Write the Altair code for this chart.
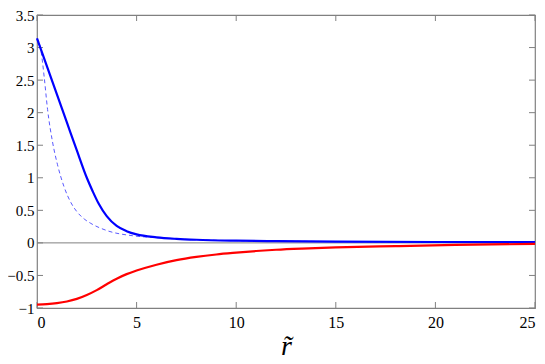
import altair as alt
import pandas as pd

# solid blue curve
r_blue = [0, 0.5, 1, 1.5, 2, 2.5, 2.8, 3.1, 3.5, 4, 4.5, 5, 6, 7, 8, 10, 12, 15, 20, 25]
v_blue = [3.14, 2.71, 2.28, 1.85, 1.42, 1.0, 0.79, 0.6, 0.41, 0.26, 0.18, 0.13, 0.085, 0.062, 0.048, 0.034, 0.027, 0.02, 0.014, 0.011]

# dashed blue curve
r_dash = [0, 0.2, 0.36, 0.53, 0.78, 1.03, 1.36, 1.7, 2.0, 2.4, 2.7, 3.5, 4.8, 6, 7, 8, 10, 12, 15, 20, 25]
v_dash = [3.14, 2.95, 2.55, 2.05, 1.55, 1.2, 0.86, 0.62, 0.48, 0.36, 0.3, 0.19, 0.11, 0.08, 0.06, 0.048, 0.034, 0.027, 0.02, 0.014, 0.011]

# red curve
r_red = [0, 0.5, 1, 1.5, 2, 2.5, 3, 3.5, 4, 4.5, 5, 6, 7, 8, 9, 10, 11, 12, 13.3, 15, 18, 21, 25]
v_red = [-0.947, -0.94, -0.925, -0.9, -0.86, -0.8, -0.725, -0.635, -0.55, -0.48, -0.425, -0.335, -0.265, -0.215, -0.178, -0.15, -0.125, -0.105, -0.087, -0.07, -0.05, -0.032, -0.015]

x_ticks = [0, 5, 10, 15, 20, 25]
y_ticks = [-1, -0.5, 0, 0.5, 1, 1.5, 2, 2.5, 3, 3.5]

W, H = 498, 293
GRAY = "#808080"
FONT = "Liberation Serif"

xs = alt.Scale(domain=[0, 25], nice=False, zero=False)
ys = alt.Scale(domain=[-1, 3.5], nice=False, zero=False)

blue = pd.DataFrame({"r": r_blue, "v": v_blue})
dash = pd.DataFrame({"r": r_dash, "v": v_dash})
red = pd.DataFrame({"r": r_red, "v": v_red})
xt = pd.DataFrame({"t": x_ticks})
yt = pd.DataFrame({"t": y_ticks})

xaxis = alt.Axis(values=x_ticks, format="~g", ticks=False, grid=False, domain=False,
                 labelOverlap=False, labelFont=FONT, labelFontSize=16, labelColor="black",
                 labelPadding=6, title="r\u0303", titleFont=FONT, titleFontStyle="italic",
                 titleFontWeight="normal", titleFontSize=28, titleColor="black", titlePadding=2)
yaxis = alt.Axis(values=y_ticks, format="~g", ticks=False, grid=False, domain=False,
                 labelOverlap=False, labelFont=FONT, labelFontSize=15, labelColor="black",
                 labelPadding=3, title=None)


def X(field):
    return alt.X(field, type="quantitative", scale=xs, axis=xaxis)


def Y(field):
    return alt.Y(field, type="quantitative", scale=ys, axis=yaxis)


zero = alt.Chart(pd.DataFrame({"z": [0]})).mark_rule(color=GRAY, strokeWidth=1).encode(
    y=Y("z"))

TL = 6
yt_left = alt.Chart(yt).mark_rule(color=GRAY, strokeWidth=1).encode(
    y=Y("t"), x=alt.value(0), x2=alt.value(TL))
yt_right = alt.Chart(yt).mark_rule(color=GRAY, strokeWidth=1).encode(
    y=Y("t"), x=alt.value(W - TL), x2=alt.value(W))
xt_bot = alt.Chart(xt).mark_rule(color=GRAY, strokeWidth=1).encode(
    x=X("t"), y=alt.value(H - TL), y2=alt.value(H))
xt_top = alt.Chart(xt).mark_rule(color=GRAY, strokeWidth=1).encode(
    x=X("t"), y=alt.value(0), y2=alt.value(TL))

dash_line = alt.Chart(dash).mark_line(color="#5a5aff", strokeWidth=1, strokeDash=[4, 3],
                                      interpolate="monotone").encode(x=X("r"), y=Y("v"))
blue_line = alt.Chart(blue).mark_line(color="#0000ff", strokeWidth=2.2,
                                      interpolate="monotone").encode(x=X("r"), y=Y("v"))
red_line = alt.Chart(red).mark_line(color="#ff0000", strokeWidth=2.2,
                                    interpolate="monotone").encode(x=X("r"), y=Y("v"))

chart = alt.layer(zero, yt_left, yt_right, xt_bot, xt_top, dash_line, blue_line, red_line).properties(
    width=W, height=H,
    autosize=alt.AutoSizeParams(type="none"),
    padding={"left": 29, "top": 7, "right": 2, "bottom": 48},
).configure(background="white").configure_view(
    stroke=GRAY, strokeWidth=1.2
)

chart.save("out.html", embed_options={"renderer": "svg", "actions": False})
